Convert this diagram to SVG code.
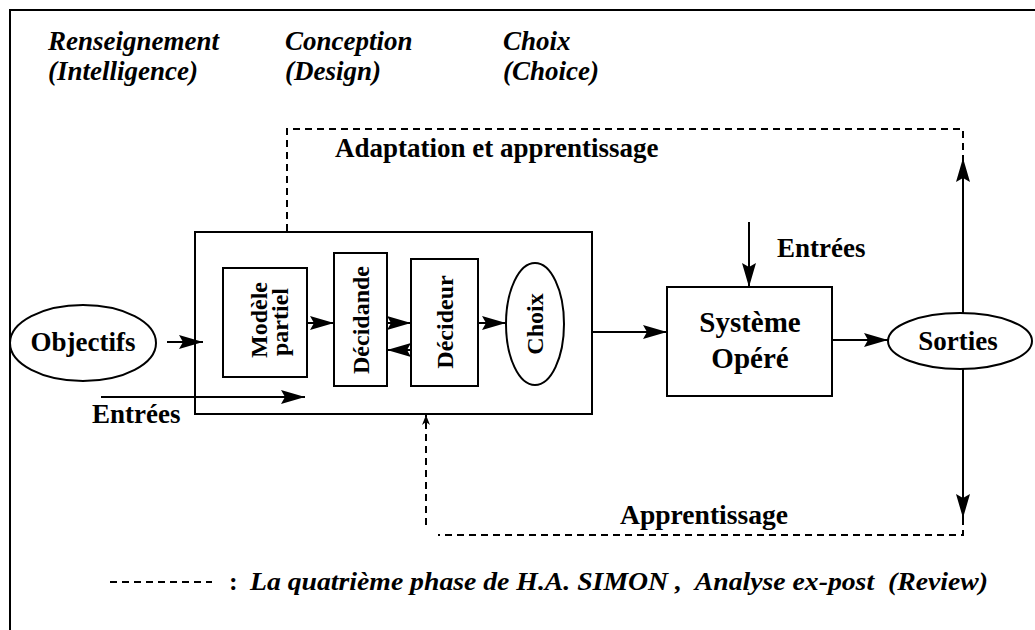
<svg xmlns="http://www.w3.org/2000/svg" width="1035" height="630" viewBox="0 0 1035 630">
<defs>
<style>
.t{font-family:"Liberation Serif","Times New Roman",serif;font-weight:bold;fill:#000}
.i{font-style:italic}
.box{fill:#fff;stroke:#000;stroke-width:2}
.ln{fill:none;stroke:#000;stroke-width:2}
.ds{fill:none;stroke:#000;stroke-width:2;stroke-dasharray:7,5}
</style>
<marker id="ah" viewBox="0 0 24 14" refX="24" refY="7" markerWidth="24" markerHeight="14" orient="auto" markerUnits="userSpaceOnUse"><path d="M0,0 L24,7 L0,14 L4,7 z" fill="#000"/></marker>
<marker id="ahs" viewBox="0 0 10 8" refX="10" refY="4" markerWidth="10" markerHeight="8" orient="auto" markerUnits="userSpaceOnUse"><path d="M0,0 L10,4 L0,8 L3,4 z" fill="#000"/></marker>
</defs>
<rect width="1035" height="630" fill="#fff"/>
<g id="frame"><path class="ln" d="M10,630 L10,10 L1035,10"/></g>
<g id="phases">
<text class="t i" x="48" y="50" font-size="27">Renseignement</text>
<text class="t i" x="48" y="80" font-size="27">(Intelligence)</text>
<text class="t i" x="285" y="50" font-size="27">Conception</text>
<text class="t i" x="285" y="80" font-size="27">(Design)</text>
<text class="t i" x="503" y="50" font-size="27">Choix</text>
<text class="t i" x="503" y="80" font-size="27">(Choice)</text>
</g>
<g id="big-box"><rect class="box" x="195" y="232" width="397" height="182"/></g>
<g id="objectifs"><ellipse class="box" cx="83" cy="343" rx="73" ry="38"/><text class="t" x="83" y="351" font-size="27" text-anchor="middle">Objectifs</text></g>
<g id="modele"><rect class="box" x="223" y="268" width="84" height="109"/>
<text class="t" font-size="24" text-anchor="middle" transform="translate(267,320) rotate(-90)">Modèle</text>
<text class="t" font-size="24" text-anchor="middle" transform="translate(288,322) rotate(-90)">partiel</text></g>
<g id="decidande"><rect class="box" x="334" y="253" width="53" height="133"/>
<text class="t" font-size="24" text-anchor="middle" transform="translate(369,320) rotate(-90)">Décidande</text></g>
<g id="decideur"><rect class="box" x="411" y="259" width="67" height="127"/>
<text class="t" font-size="24" text-anchor="middle" transform="translate(453,322) rotate(-90)">Décideur</text></g>
<g id="choix"><ellipse class="box" cx="535" cy="324" rx="29" ry="61"/>
<text class="t" font-size="24" text-anchor="middle" transform="translate(543,324) rotate(-90)">Choix</text></g>
<g id="systeme"><rect class="box" x="667" y="287" width="165" height="109"/>
<text class="t" x="750" y="332" font-size="29" text-anchor="middle">Système</text>
<text class="t" x="750" y="368" font-size="29" text-anchor="middle">Opéré</text></g>
<g id="sorties"><ellipse class="box" cx="960" cy="341" rx="72" ry="28"/><text class="t" x="958" y="350" font-size="27" text-anchor="middle">Sorties</text></g>
<g id="connectors">
<line class="ln" x1="167" y1="342" x2="203" y2="342" marker-end="url(#ah)"/>
<line class="ln" x1="101" y1="397" x2="305" y2="397" marker-end="url(#ah)"/>
<line class="ln" x1="307" y1="323" x2="334" y2="323" marker-end="url(#ah)"/>
<line class="ln" x1="387" y1="323" x2="411" y2="323" marker-end="url(#ah)"/>
<line class="ln" x1="411" y1="350" x2="387" y2="350" marker-end="url(#ah)"/>
<line class="ln" x1="478" y1="323" x2="506" y2="323" marker-end="url(#ah)"/>
<line class="ln" x1="592" y1="332" x2="667" y2="332" marker-end="url(#ah)"/>
<line class="ln" x1="749" y1="222" x2="749" y2="287" marker-end="url(#ah)"/>
<line class="ln" x1="832" y1="340" x2="888" y2="340" marker-end="url(#ah)"/>
<line class="ln" x1="963" y1="313" x2="963" y2="158" marker-end="url(#ah)"/>
<line class="ln" x1="963" y1="369" x2="963" y2="518" marker-end="url(#ah)"/>
<polyline class="ds" points="287,231 287,129 963,129 963,158"/>
<polyline class="ds" points="963,518 963,535 438,535"/>
<line class="ds" x1="426" y1="525" x2="426" y2="415" marker-end="url(#ahs)"/>
</g>
<g id="labels">
<text class="t" x="335" y="157" font-size="27">Adaptation et apprentissage</text>
<text class="t" x="777" y="257" font-size="27">Entrées</text>
<text class="t" x="92" y="423" font-size="27">Entrées</text>
<text class="t" x="620" y="524" font-size="27" textLength="168" lengthAdjust="spacingAndGlyphs">Apprentissage</text>
</g>
<g id="legend">
<line x1="110" y1="582" x2="212" y2="582" stroke="#000" stroke-width="2" stroke-dasharray="7,5"/>
<text class="t" x="229" y="590" font-size="26">:</text>
<text class="t i" x="250" y="590" font-size="26" textLength="738" lengthAdjust="spacingAndGlyphs" xml:space="preserve">La quatrième phase de H.A. SIMON ,  Analyse ex-post  (Review)</text>
</g>
</svg>
